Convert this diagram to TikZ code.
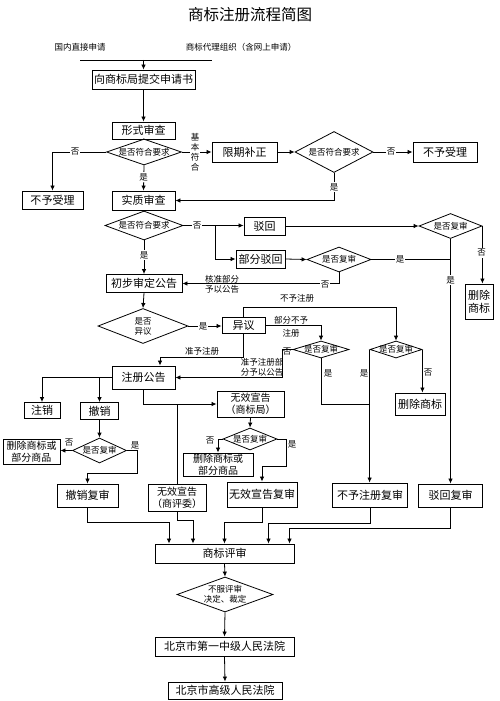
\documentclass[tikz,border=0pt]{standalone}
\usepackage{fontspec}
\newfontfamily\cjk{Noto Sans CJK SC}
\usetikzlibrary{arrows.meta,shapes.geometric,calc}
\tikzset{
 box/.style={draw, line width=0.9pt, inner sep=0pt, align=center, font=\cjk\fontsize{11}{13}\selectfont},
 boxb/.style={box, font=\cjk\fontsize{10}{12}\selectfont},
 dia/.style={diamond, draw, line width=0.8pt, inner sep=0pt},
 dtext/.style={inner sep=0pt, align=center, font=\cjk\fontsize{8.5}{10}\selectfont},
 lbl/.style={inner sep=1pt, align=center, font=\cjk\fontsize{8.5}{10}\selectfont},
 lblw/.style={lbl, fill=white},
 arr/.style={line width=0.8pt, -{Latex[length=5pt,width=4.5pt]}},
 ln/.style={line width=0.8pt},
}
\begin{document}
\begin{tikzpicture}[x=1pt,y=-1pt]
\useasboundingbox[fill=white] (0,0) rectangle (500,701);
% title and header
\node[font=\cjk\fontsize{15.5}{18}\selectfont, inner sep=0] (title) at (250,15) {商标注册流程简图};
\node[lbl] (h1) at (80,47) {国内直接申请};
\node[lbl] (h2) at (241,47) {商标代理组织（含网上申请）};
\coordinate (hl) at (80,60);
\coordinate (hr) at (212,60);
% boxes
\node[box, minimum width=103, minimum height=19] (sub) at (143.5,79.5) {向商标局提交申请书};
\node[box, minimum width=63, minimum height=17] (xs) at (143.5,130.5) {形式审查};
\node[dia, minimum width=75, minimum height=26, label={[dtext]center:是否符合要求}] (d1) at (144,152) {};
\node[box, minimum width=61, minimum height=18] (nsl) at (52.5,200) {不予受理};
\node[box, minimum width=63, minimum height=19] (sz) at (143.5,200.5) {实质审查};
\node[box, minimum width=65, minimum height=20] (qx) at (244.5,152) {限期补正};
\node[dia, minimum width=78, minimum height=41, label={[dtext]center:是否符合要求}] (d2) at (334,152) {};
\node[box, minimum width=64, minimum height=20] (nsr) at (445,152) {不予受理};
\node[dia, minimum width=78, minimum height=29, label={[dtext]center:是否符合要求}] (d3) at (144,225.5) {};
\node[box, minimum width=41, minimum height=18] (bh) at (264.5,226) {驳回};
\node[box, minimum width=49, minimum height=18] (bfbh) at (260.5,259) {部分驳回};
\node[dia, minimum width=63, minimum height=25, label={[dtext]center:是否复审}] (d4) at (450.5,226) {};
\node[box, minimum width=28, minimum height=35] (sc1) at (479,301.5) {删除\\商标};
\node[dia, minimum width=64, minimum height=25, label={[dtext]center:是否复审}] (d5) at (339,259.5) {};
\node[box, minimum width=76, minimum height=18] (cb) at (144,283.5) {初步审定公告};
\node[dia, minimum width=90, minimum height=35, label={[dtext]center:是否\\异议}] (d6) at (143,326) {};
\node[box, minimum width=43, minimum height=16] (yy) at (243.5,325.5) {异议};
\node[dia, minimum width=56, minimum height=17, label={[dtext]center:是否复审}] (d7) at (321,349.5) {};
\node[dia, minimum width=52, minimum height=17, label={[dtext]center:是否复审}] (d8) at (396,349.5) {};
\node[box, minimum width=63, minimum height=23] (zc) at (143.5,377.5) {注册公告};
\node[box, minimum width=36, minimum height=16] (zx) at (42,410.5) {注销};
\node[box, minimum width=38, minimum height=17] (cx) at (99.5,411) {撤销};
\node[boxb, minimum width=67, minimum height=26] (wxs) at (250.5,404) {无效宣告\\（商标局）};
\node[box, minimum width=50, minimum height=22] (sc2) at (420,404) {删除商标};
\node[dia, minimum width=54, minimum height=22, label={[dtext]center:是否复审}] (d9) at (250,439) {};
\node[boxb, minimum width=70, minimum height=23] (sc3) at (218,464.5) {删除商标或\\部分商品};
\node[dia, minimum width=54, minimum height=25, label={[dtext]center:是否复审}] (d10) at (99.5,450.5) {};
\node[boxb, minimum width=57, minimum height=25] (sc4) at (31.5,451.5) {删除商标或\\部分商品};
\node[box, minimum width=61, minimum height=23] (cxfs) at (87.5,495.5) {撤销复审};
\node[boxb, minimum width=58, minimum height=27] (wxp) at (177,497.5) {无效宣告\\（商评委）};
\node[box, minimum width=70, minimum height=25] (wxfs) at (262,494.5) {无效宣告复审};
\node[box, minimum width=75, minimum height=24] (bzfs) at (370,495) {不予注册复审};
\node[box, minimum width=64, minimum height=23] (bhfs) at (450.5,495.5) {驳回复审};
\node[box, minimum width=139, minimum height=19] (sp) at (224.5,553.5) {商标评审};
\node[dia, minimum width=96, minimum height=35, label={[dtext]center:不服评审\\决定、裁定}] (d11) at (225,594.5) {};
\node[box, minimum width=139, minimum height=19] (fy1) at (224.5,646.5) {北京市第一中级人民法院};
\node[box, minimum width=114, minimum height=17] (fy2) at (225,690.5) {北京市高级人民法院};
% connectors
\draw[ln] (hl) -- (hr);
\draw[arr] (sub.north |- hl) -- (sub.north);
\draw[arr] (sub.south) -- (xs.north);
\draw[ln] (xs.south) -- (d1.north);
\draw[arr] (d1.west) -| (nsl.north);
\draw[arr] (d1.south) -- (sz.north);
\draw[arr] (d1.east) -- (qx.west);
\draw[arr] (qx.east) -- (d2.west);
\draw[arr] (d2.east) -- (nsr.west);
\draw[arr] (d2.south) |- (sz.east);
\draw[ln] (sz.south) -- (d3.north);
\coordinate (j1) at (215,225.5);
\draw[arr] (d3.east) -- (bh.west |- d3.east);
\draw[arr] (j1) |- (bfbh.west);
\draw[arr] (bh.east) -- (d4.west |- bh.east);
\draw[arr] (d4.east) -- (d4.east |- sc1.north);
\draw[arr] (d4.south) -- (bhfs.north);
\draw[arr] (bfbh.east) -- (d5.west);
\draw[ln] (d5.east) -- (d5.east -| d4.south);
\draw[arr] (d5.south) |- (cb.east);
\draw[arr] (d3.south) -- (cb.north);
\draw[arr] (cb.south) -- (d6.north);
\draw[arr] (d6.east) -- (yy.west |- d6.east);
\draw[arr] (yy.north) -- (yy.north |- 0,307) -| (d8.north);
\draw[arr] (yy.south) -- (yy.south |- 0,357) -| ([xshift=16.5pt]zc.north);
\draw[arr] (yy.east) -| (d7.north);
\draw[arr] (d7.west) -- ++(-10,0) |- (zc.east);
\draw[ln] (d7.south) |- (d8.west |- 0,404);
\draw[arr] (d8.west) -- (d8.west |- bzfs.north);
\draw[arr] (d8.east) -- (d8.east |- sc2.north);
\draw[arr] (zc.west) -| (zx.north);
\draw[arr] (cx.north |- zc.west) -- (cx.north);
\draw[arr] (zc.south) |- (wxs.west);
\draw[ln] (wxp.north |- wxs.west) -- (wxp.north);
\draw[arr] (wxs.south) -- (d9.north);
\draw[arr] (d9.west) -| (sc3.north);
\draw[arr] (d9.east) -- ++(9,0) |- ([yshift=15pt]wxfs.north) -- (wxfs.north);
\draw[arr] (cx.south) -- (d10.north);
\draw[arr] (d10.west) -- (sc4.east |- d10.west);
\draw[arr] (d10.east) -- ++(10,0) |- ([yshift=10pt]cxfs.north) -- (cxfs.north);
\draw[arr] (cxfs.south) -- ++(0,15) -| ([xshift=-55.5pt]sp.north);
\draw[arr] (wxp.south) -- ++(0,9) -| ([xshift=-31.5pt]sp.north);
\draw[arr] (wxfs.south) -- ++(0,15) -| (sp.north);
\draw[arr] (bzfs.south) -- ++(0,16) -| ([xshift=44pt]sp.north);
\draw[arr] (bhfs.south) -- ++(0,21) -| ([xshift=65pt]sp.north);
\draw[arr] (sp.south) -- (d11.north);
\draw[arr] (d11.south) -- (fy1.north);
\draw[arr] (fy1.south) -- (fy2.north);
% labels
\node[lblw] (l1) at (75,152) {否};
\node[lblw] (l2) at (143.5,177) {是};
\node[lblw, inner sep=0.5pt] (l3) at (195,152) {基\\本\\符\\合};
\node[lblw] (l4) at (391,152) {否};
\node[lblw] (l5) at (334,187) {是};
\node[lblw] (l6) at (197,225.5) {否};
\node[lblw] (l7) at (481.5,253) {否};
\node[lblw] (l8) at (450.5,280) {是};
\node[lblw] (l9) at (400,259.5) {是};
\node[lblw] (l10) at (325,284.5) {否};
\node[lbl] (l11) at (222,284) {核准部分\\予以公告};
\node[lblw] (l12) at (144,255) {是};
\node[lblw] (l13) at (203,326) {是};
\node[lbl] (l14) at (297,298) {不予注册};
\node[lbl] (l15) at (202,351) {准予注册};
\node[lbl] (l16) at (291,320) {部分不予};
\node[lbl] (l17) at (291,333) {注册};
\node[lbl] (l18) at (287,352) {否};
\node[lbl] (l19) at (262,367) {准予注册部\\分予以公告};
\node[lbl] (l20) at (328,373) {是};
\node[lbl] (l21) at (364,373) {是};
\node[lbl] (l22) at (428,373) {否};
\node[lbl] (l23) at (210,441) {否};
\node[lbl] (l24) at (292,444) {是};
\node[lbl] (l25) at (69,443) {否};
\node[lbl] (l26) at (135,445) {是};
\end{tikzpicture}
\end{document}
